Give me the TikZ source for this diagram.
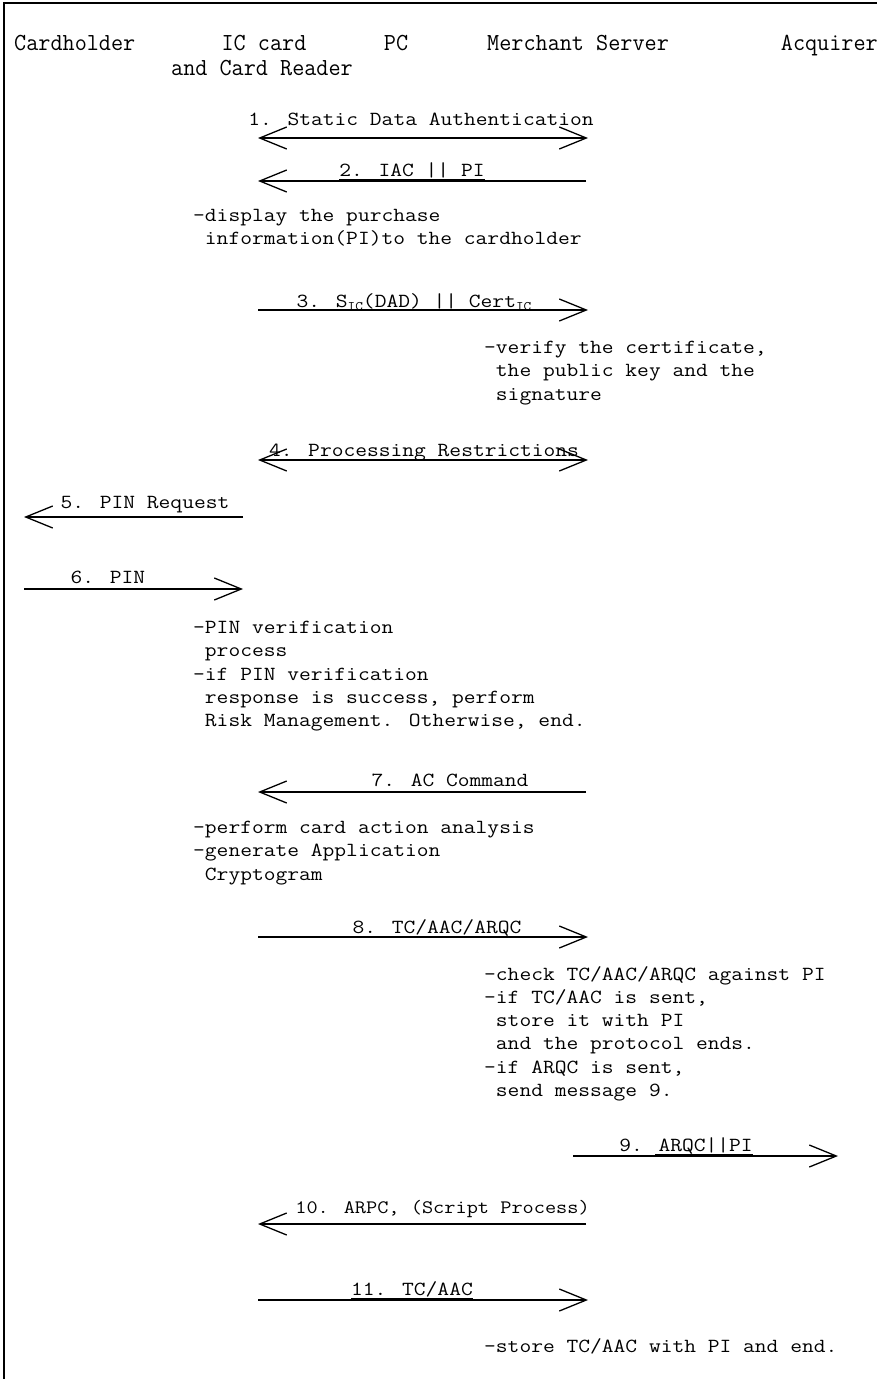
\documentclass[tikz,border=0pt]{standalone}
\usepackage{fontspec}
% typewriter faces: 12pt per character in the notes, a taller face for the heading row
\newfontfamily\courfont[FakeStretch=1.142857]{Latin Modern Mono}
\newfontfamily\hdrfont[FakeStretch=0.96]{Latin Modern Mono}
\usetikzlibrary{arrows.meta,calc}
\newcommand\subic{\raisebox{-3pt}{\fontsize{13pt}{13pt}\selectfont IC}}
\newcommand\ind{\phantom{-}}
\begin{document}
\begin{tikzpicture}[x=1pt,y=-1pt,
  hdr/.style={font=\hdrfont\fontsize{24.5pt}{25pt}\selectfont, inner sep=0pt, anchor=base},
  txt/.style={font=\courfont\fontsize{20pt}{23.3pt}\selectfont, inner sep=0pt, anchor=north west, align=left},
  lbl/.style={font=\courfont\fontsize{20pt}{23.3pt}\selectfont, inner sep=0pt, anchor=base},
  msg/.style={line width=1.3pt, -{Straight Barb[length=27pt,width=22pt,line width=1.3pt]}},
  msgboth/.style={line width=1.3pt, {Straight Barb[length=27pt,width=22pt,line width=1.3pt]}-{Straight Barb[length=27pt,width=22pt,line width=1.3pt]}},
  uline/.style={line width=1pt},
  frame/.style={line width=1.2pt}]
\useasboundingbox (0,0) rectangle (877,1379);
% outer frame (top and left edges)
\draw[frame] (4,1379) |- (877,3);

% participants
\node[hdr, anchor=base west] (hCard) at (14,50) {Cardholder};
\node[hdr] (hIC) at (264,50) {IC card};
\node[hdr] (hICb) at (262,75) {and Card Reader};
\node[hdr] (hPC) at (396,50) {PC};
\node[hdr, anchor=base west] (hMS) at (487,50) {Merchant Server};
\node[hdr, anchor=base east] (hAcq) at (878,50) {Acquirer};

% message end points
\coordinate (m1a) at (258,138); \coordinate (m1b) at (588,138);
\coordinate (m2a) at (586,181); \coordinate (m2b) at (258,181);
\coordinate (m3a) at (258,310); \coordinate (m3b) at (588,310);
\coordinate (m4a) at (258,460); \coordinate (m4b) at (588,460);
\coordinate (m5a) at (243,517); \coordinate (m5b) at (24,517);
\coordinate (m6a) at (24,589);  \coordinate (m6b) at (243,589);
\coordinate (m7a) at (586,792); \coordinate (m7b) at (258,792);
\coordinate (m8a) at (258,937); \coordinate (m8b) at (588,937);
\coordinate (m9a) at (573,1156); \coordinate (m9b) at (838,1156);
\coordinate (m10a) at (586,1224); \coordinate (m10b) at (258,1224);
\coordinate (m11a) at (258,1300); \coordinate (m11b) at (588,1300);

% messages and notes
\draw[msgboth] (m1a) -- (m1b);
\node[lbl] (l1) at (421,125) {1. Static Data Authentication};
\draw[msg] (m2a) -- (m2b);
\node[lbl] (l2) at (412,176) {2. IAC || PI};
\draw[uline] ($(l2.base west)+(0,3)$) -- ($(l2.base east)+(0,3)$);
\node[txt] (t1) at (193,209) {-display the purchase\\\ind information(PI)to the cardholder};
\draw[msg] (m3a) -- (m3b);
\node[lbl] (l3) at (414,307) {3. S\subic(DAD) || Cert\subic};
\draw[uline] ($(l3.base west)+(36,3)$) -- ($(l3.base east)+(0,3)$);
\node[txt] (t2) at (484,341) {-verify the certificate,\\\ind the public key and the\\\ind signature};
\draw[msgboth] (m4a) -- (m4b);
\node[lbl] (l4) at (424,456) {4. Processing Restrictions};
\draw[msg] (m5a) -- (m5b);
\node[lbl] (l5) at (145,508) {5. PIN Request};
\draw[msg] (m6a) -- (m6b);
\node[lbl] (l6) at (108,583) {6. PIN};
\node[txt] (t3) at (193,621) {-PIN verification\\\ind process\\-if PIN verification\\\ind response is success, perform\\\ind Risk Management. Otherwise, end.};
\draw[msg] (m7a) -- (m7b);
\node[lbl] (l7) at (450,786) {7. AC Command};
\node[txt] (t4) at (193,821) {-perform card action analysis\\-generate Application\\\ind Cryptogram};
\draw[msg] (m8a) -- (m8b);
\node[lbl] (l8) at (437,933) {8. TC/AAC/ARQC};
\node[txt] (t5) at (484,966) {-check TC/AAC/ARQC against PI\\-if TC/AAC is sent,\\\ind store it with PI\\\ind and the protocol ends.\\-if ARQC is sent,\\\ind send message 9.};
\draw[msg] (m9a) -- (m9b);
\node[lbl] (l9) at (686,1151) {9. ARQC||PI};
\draw[uline] ($(l9.base west)+(36,3)$) -- ($(l9.base east)+(0,3)$);
\draw[msg] (m10a) -- (m10b);
\node[lbl, anchor=base east, font=\courfont\fontsize{19pt}{22pt}\selectfont] (l10) at (590,1213) {10. ARPC, (Script Process)};
\draw[msg] (m11a) -- (m11b);
\node[lbl] (l11) at (412,1295) {11. TC/AAC};
\draw[uline] ($(l11.base west)+(0,3)$) -- ($(l11.base east)+(0,3)$);
\node[txt] (t6) at (484,1338) {-store TC/AAC with PI and end.};
\end{tikzpicture}
\end{document}
